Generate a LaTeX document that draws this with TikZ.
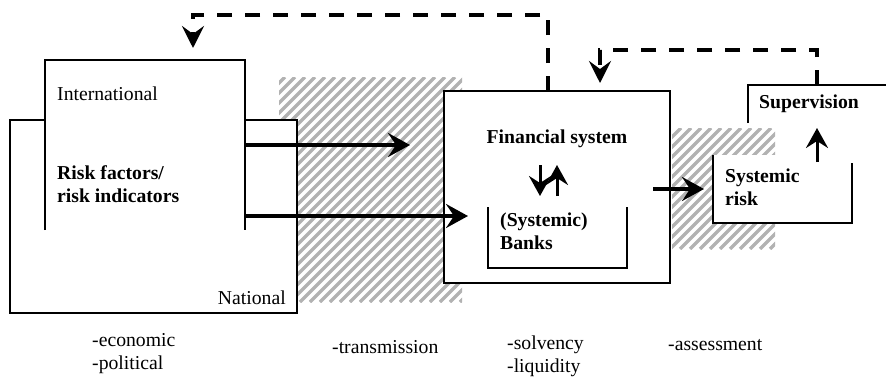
\documentclass[tikz,border=0pt]{standalone}
\usepackage{fontspec}
\setmainfont{Liberation Serif}
\usetikzlibrary{arrows.meta}
\begin{document}
\begin{tikzpicture}[x=1pt,y=-1pt,
  boxline/.style={line width=1.8pt},
  region/.style={inner sep=0pt,outer sep=0pt,fill=white},
  bigarrow/.style={line width=4pt,-{Stealth[length=22pt,width=24pt,inset=8pt]}},
  smallarrow/.style={line width=3pt,-{Stealth[length=20pt,width=22pt,inset=7pt]}},
  dasharrow/.style={line width=4pt,dash pattern=on 15pt off 13pt,-{Stealth[length=22pt,width=22pt,inset=8pt]}},
  txt/.style={font=\fontsize{19.7}{23}\selectfont,inner sep=0pt,align=left},
  btxt/.style={txt,font=\fontsize{19.7}{23}\selectfont\bfseries},
  hatchline/.style={line width=3.3pt,black!30},
]
\useasboundingbox (0,0) rectangle (886,376);
% hatched areas
\begin{scope}
  \clip (279,77) rectangle (462,302);
  \foreach \a in {40,50,...,470} \draw[hatchline] (\a,302) -- ({\a+225},77);
\end{scope}
\begin{scope}
  \clip (672,128) rectangle (775,249);
  \foreach \a in {540,550,...,780} \draw[hatchline] (\a,249) -- ({\a+121},128);
\end{scope}
% National and International
\node[region,draw,boxline,minimum width=287pt,minimum height=193pt] (nat) at (153.5,216.5) {};
\node[region,minimum width=200pt,minimum height=170pt] (intl) at (145,145) {};
\draw[boxline] (intl.south west) -- (intl.north west) -- (intl.north east) -- (intl.south east);
\node[txt,anchor=west] (tint) at (57,94) {International};
\node[btxt,anchor=west] (trisk) at (57,184.5) {Risk factors/\\risk indicators};
\node[txt,anchor=east] (tnat) at (286,298) {National};
% Financial system
\node[region,draw,boxline,minimum width=226pt,minimum height=192pt] (fin) at (557,187) {};
\node[btxt,anchor=center] (tfin) at (557,139) {Financial system};
\node[region,minimum width=139pt,minimum height=61pt] (banks) at (557.5,237.5) {};
\draw[boxline] (banks.north west) -- (banks.south west) -- (banks.south east) -- (banks.north east);
\node[btxt,anchor=west] (tbanks) at (500,231) {(Systemic)\\Banks};
% Systemic risk
\node[region,minimum width=139pt,minimum height=68pt] (sr) at (782.5,189) {};
\draw[boxline] (sr.north west) -- (sr.south west) -- (sr.south east) -- ++(0,-60);
\node[btxt,anchor=west] (tsr) at (725,187) {Systemic\\risk};
% Supervision
\node[region,fill=none,minimum width=142pt,minimum height=38pt] (sup) at (819,104) {};
\draw[boxline] (sup.south west) -- (sup.north west) -- (sup.north east);
\node[btxt,anchor=west] (tsup) at (759,104) {Supervision};
% coordinates
\coordinate (a1e) at (410,145);
\coordinate (a2s) at (245,216);
\coordinate (a2e) at (468,216);
\coordinate (a3s) at (653,189);
\coordinate (a3e) at (704,189);
\coordinate (d1e) at (193,48);
\coordinate (d1s) at (548,91);
\coordinate (d2s) at (817,85);
\coordinate (d2e) at (600,83);
\coordinate (fd1) at (540,165);
\coordinate (fd2) at (540,196);
\coordinate (fu1) at (557,196);
\coordinate (fu2) at (557,165);
\coordinate (su1) at (817,162);
\coordinate (su2) at (817,128);
% arrows
\draw[bigarrow] (intl.east) -- (a1e);
\draw[bigarrow] (a2s) -- (a2e);
\draw[bigarrow] (a3s) -- (a3e);
\draw[smallarrow] (fd1) -- (fd2);
\draw[smallarrow] (fu1) -- (fu2);
\draw[smallarrow] (su1) -- (su2);
\draw[dasharrow] (d1s) -- (548,15) -- (193,15) -- (d1e);
\draw[dasharrow] (d2s) -- (817,50) -- (600,50) -- (d2e);
% bottom labels
\node[txt,anchor=west] (l1) at (92,354) {-economic\\-political};
\node[txt,anchor=west] (l2) at (332,347) {-transmission};
\node[txt,anchor=west] (l3) at (507,356) {-solvency\\-liquidity};
\node[txt,anchor=west] (l4) at (668,345) {-assessment};
\end{tikzpicture}
\end{document}
